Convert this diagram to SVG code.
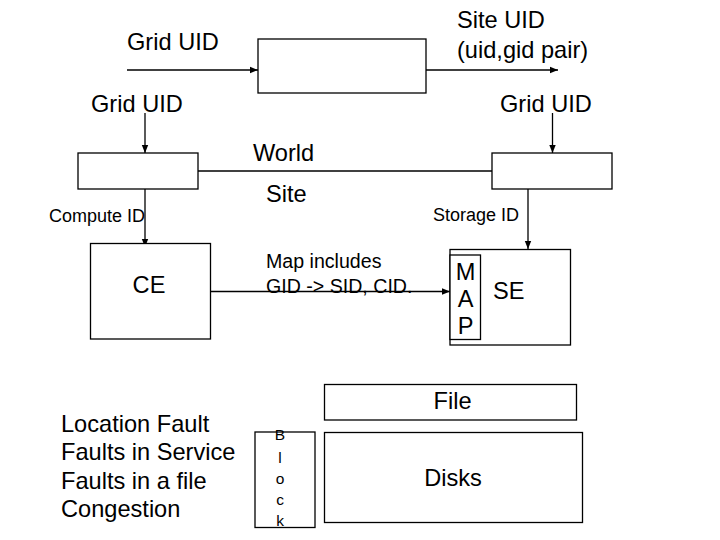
<svg xmlns="http://www.w3.org/2000/svg" width="720" height="540" viewBox="0 0 720 540">
<style>
text{font-family:"Liberation Sans",Arial,sans-serif;fill:#000}
.b{font-size:23.6px}
.s{font-size:18px}
.m{font-size:19.6px}
.k{font-size:15.5px}
.box{fill:#fff;stroke:#000;stroke-width:1.3}
.ln{fill:none;stroke:#000;stroke-width:1.3}
</style>
<defs>
<marker id="ah" viewBox="0 0 10 10" refX="10" refY="5" markerWidth="8" markerHeight="8" markerUnits="userSpaceOnUse" orient="auto">
<path d="M0,1 L10,5 L0,9 Z" fill="#000"/>
</marker>
</defs>
<rect width="720" height="540" fill="#fff"/>
<g id="connectors">
<line class="ln" x1="127" y1="70" x2="258" y2="70" marker-end="url(#ah)"/>
<line class="ln" x1="426" y1="70" x2="558" y2="70" marker-end="url(#ah)"/>
<line class="ln" x1="145" y1="113" x2="145" y2="153" marker-end="url(#ah)"/>
<line class="ln" x1="552.5" y1="113" x2="552.5" y2="153" marker-end="url(#ah)"/>
<line class="ln" x1="198" y1="171" x2="492" y2="171"/>
<line class="ln" x1="145" y1="189" x2="145" y2="247" marker-end="url(#ah)"/>
<line class="ln" x1="528" y1="189" x2="528" y2="249" marker-end="url(#ah)"/>
<line class="ln" x1="204" y1="291.5" x2="450" y2="291.5" marker-end="url(#ah)"/>
</g>
<g id="top-box"><rect class="box" x="258" y="39" width="168" height="54"/></g>
<g id="label-grid-uid-top"><text class="b" x="127" y="50">Grid UID</text></g>
<g id="label-site-uid"><text class="b" x="457" y="28">Site UID</text><text class="b" x="457" y="58">(uid,gid pair)</text></g>
<g id="label-grid-uid-left"><text class="b" x="91" y="112">Grid UID</text></g>
<g id="label-grid-uid-right"><text class="b" x="500" y="112">Grid UID</text></g>
<g id="left-box"><rect class="box" x="78" y="153" width="120" height="36"/></g>
<g id="right-box"><rect class="box" x="492" y="153" width="120" height="36"/></g>
<g id="label-world"><text class="b" x="253" y="161">World</text></g>
<g id="label-site"><text class="b" x="266" y="202">Site</text></g>
<g id="label-compute-id"><text class="s" x="49" y="221.5">Compute ID</text></g>
<g id="label-storage-id"><text class="s" x="433" y="221">Storage ID</text></g>
<g id="ce"><rect class="box" x="90.5" y="243.5" width="120" height="95.5"/><text class="b" x="149" y="292.5" text-anchor="middle">CE</text></g>
<g id="label-map"><text class="m" x="266" y="267.5">Map includes</text><text class="m" x="266" y="292.5">GID -&gt; SID, CID.</text></g>
<g id="se"><rect class="box" x="450" y="249.5" width="120.5" height="95.5"/><text class="b" x="493" y="299">SE</text></g>
<g id="map"><rect class="box" x="450" y="255" width="30.5" height="84.5"/>
<text class="b" x="465.5" y="280" text-anchor="middle">M</text>
<text class="b" x="465.5" y="306.5" text-anchor="middle">A</text>
<text class="b" x="465.5" y="334" text-anchor="middle">P</text></g>
<g id="faults">
<text class="b" x="61" y="431.5">Location Fault</text>
<text class="b" x="61" y="460">Faults in Service</text>
<text class="b" x="61" y="489">Faults in a file</text>
<text class="b" x="61" y="517">Congestion</text>
</g>
<g id="block"><rect class="box" x="255" y="432" width="60" height="95.5"/>
<text class="k" x="280" y="440" text-anchor="middle">B</text>
<text class="k" x="280" y="462.5" text-anchor="middle">l</text>
<text class="k" x="280" y="484" text-anchor="middle">o</text>
<text class="k" x="280" y="505" text-anchor="middle">c</text>
<text class="k" x="280" y="526" text-anchor="middle">k</text></g>
<g id="file"><rect class="box" x="324.5" y="384.5" width="252" height="35.5"/><text class="b" x="452.5" y="409" text-anchor="middle">File</text></g>
<g id="disks"><rect class="box" x="324.5" y="432.5" width="258" height="90"/><text class="b" x="453" y="486" text-anchor="middle">Disks</text></g>
</svg>
